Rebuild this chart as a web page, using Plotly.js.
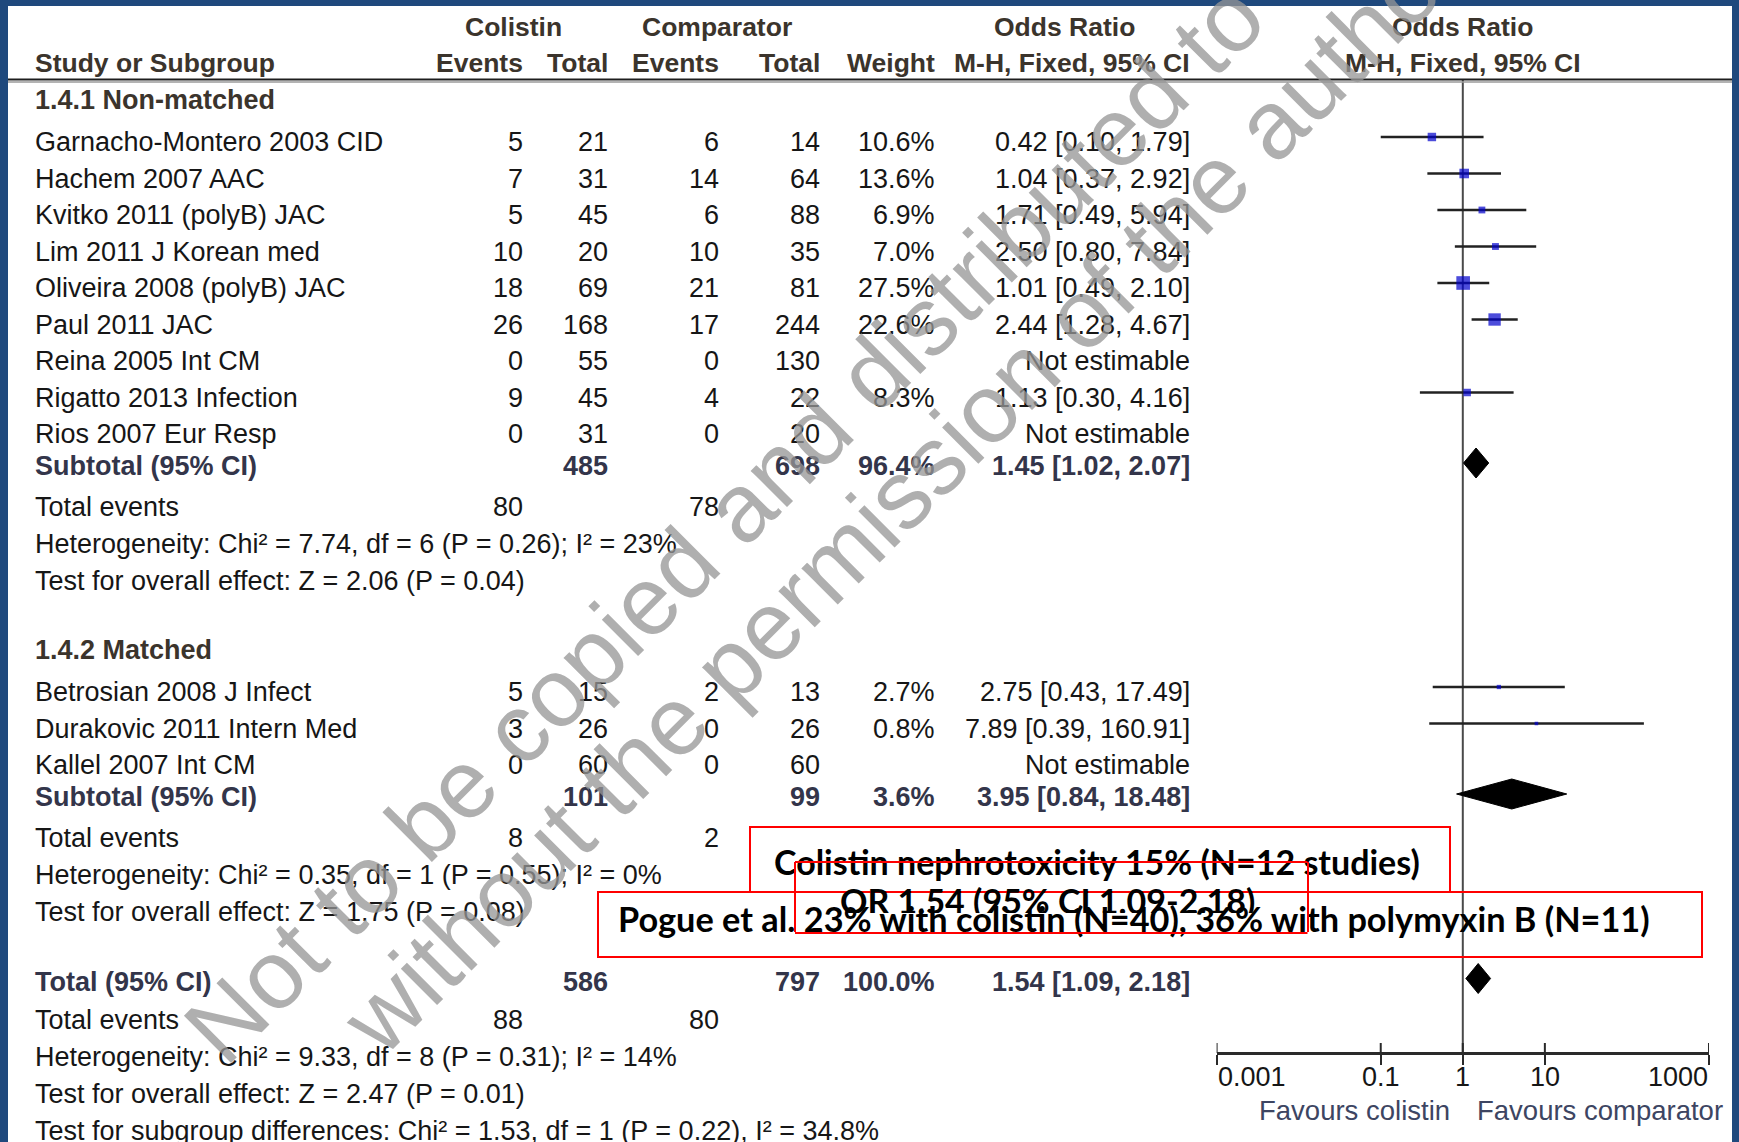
<!DOCTYPE html>
<html><head><meta charset="utf-8">
<script src="https://cdn.plot.ly/plotly-3.0.1.min.js"></script>
<style>html,body{margin:0;padding:0;background:#fff;overflow:hidden}#chart{width:1739px;height:1142px}</style>
</head><body><div id="chart"></div>
<script>
// ===================== DATA =====================
const headerTop = ["Colistin", "Comparator", "Odds Ratio", "Odds Ratio"];
const headerBottom = ["Study or Subgroup", "Events", "Total", "Events", "Total", "Weight", "M-H, Fixed, 95% CI", "M-H, Fixed, 95% CI"];

const group1Name = "1.4.1 Non-matched";
const group1Studies = ["Garnacho-Montero 2003 CID", "Hachem 2007 AAC", "Kvitko 2011 (polyB) JAC", "Lim 2011 J Korean med", "Oliveira 2008 (polyB) JAC", "Paul 2011 JAC", "Reina 2005 Int CM", "Rigatto 2013 Infection", "Rios 2007 Eur Resp"];
const group1ColistinEvents = [5, 7, 5, 10, 18, 26, 0, 9, 0];
const group1ColistinTotal = [21, 31, 45, 20, 69, 168, 55, 45, 31];
const group1ComparatorEvents = [6, 14, 6, 10, 21, 17, 0, 4, 0];
const group1ComparatorTotal = [14, 64, 88, 35, 81, 244, 130, 22, 20];
const group1Weight = [10.6, 13.6, 6.9, 7.0, 27.5, 22.6, null, 8.3, null];
const group1OR = [0.42, 1.04, 1.71, 2.50, 1.01, 2.44, null, 1.13, null];
const group1Low = [0.10, 0.37, 0.49, 0.80, 0.49, 1.28, null, 0.30, null];
const group1High = [1.79, 2.92, 5.94, 7.84, 2.10, 4.67, null, 4.16, null];

const group2Name = "1.4.2 Matched";
const group2Studies = ["Betrosian 2008 J Infect", "Durakovic 2011 Intern Med", "Kallel 2007 Int CM"];
const group2ColistinEvents = [5, 3, 0];
const group2ColistinTotal = [15, 26, 60];
const group2ComparatorEvents = [2, 0, 0];
const group2ComparatorTotal = [13, 26, 60];
const group2Weight = [2.7, 0.8, null];
const group2OR = [2.75, 7.89, null];
const group2Low = [0.43, 0.39, null];
const group2High = [17.49, 160.91, null];

const subtotalColistinTotal = [485, 101];
const subtotalComparatorTotal = [698, 99];
const subtotalWeight = [96.4, 3.6];
const subtotalOR = [1.45, 3.95];
const subtotalLow = [1.02, 0.84];
const subtotalHigh = [2.07, 18.48];
const subtotalColistinEvents = [80, 8];
const subtotalComparatorEvents = [78, 2];
const subtotalHeterogeneity = ["Heterogeneity: Chi\u00b2 = 7.74, df = 6 (P = 0.26); I\u00b2 = 23%", "Heterogeneity: Chi\u00b2 = 0.35, df = 1 (P = 0.55); I\u00b2 = 0%"];
const subtotalEffect = ["Test for overall effect: Z = 2.06 (P = 0.04)", "Test for overall effect: Z = 1.75 (P = 0.08)"];

const overallLabel = "Total (95% CI)";
const overallTotals = [586, 797];
const overallWeight = 100.0;
const overallOR = [1.54];
const overallLow = [1.09];
const overallHigh = [2.18];
const overallEvents = [88, 80];
const overallNotes = ["Heterogeneity: Chi\u00b2 = 9.33, df = 8 (P = 0.31); I\u00b2 = 14%", "Test for overall effect: Z = 2.47 (P = 0.01)", "Test for subgroup differences: Chi\u00b2 = 1.53, df = 1 (P = 0.22), I\u00b2 = 34.8%"];

const axisTicks = [0.001, 0.1, 1, 10, 1000];
const axisTickLabels = ["0.001", "0.1", "1", "10", "1000"];
const favoursLabels = ["Favours colistin", "Favours comparator"];
const calloutTexts = ["Colistin nephrotoxicity 15% (N=12 studies)", "OR 1.54 (95% CI 1.09-2.18)", "Pogue et al. 23% with colistin (N=40), 36% with polymyxin B (N=11)"];
const watermarkLines = ["Not to be copied and distributed to", "without the permission of the author"];

// ===================== LAYOUT GEOMETRY =====================
const W = 1739, H = 1142;
const FONT = "Liberation Sans, Arial, sans-serif";
const CFONT = "Lato, 'Open Sans', sans-serif";
const FS = 27, HFS = 26.5;
const C_TEXT = "#161616", C_HEAD = "#3b342c", C_SUB = "#33354a", C_FAV = "#3d4562";
const COL = {label: 34, ev1: 524, tot1: 609, ev2: 720, tot2: 821, weight: 936, ci: 1191};
const HEADX = {colistin: 513, comparator: 717, or1: 1064};
const ROW = {first: 99.5, hdrToStudy: 42.5, study: 36.5, toSub: 32, subToEv: 40.5, note: 37, nextGroup: 69, toTotal: 70, totToEv: 38};
const AXIS_Y = 1053, TICKLAB_Y = 1077, FAV_Y = 1110, HEAD_LINE_Y = 80;
const MARK_OFF = 5, DIA_OFF = 3, DIA_H = 15;

const px = x => x / W;
const ann = [], shapes = [], traces = [];
const f2 = v => v.toFixed(2);
const ciStr = (o, l, h) => o == null ? "Not estimable" : `${f2(o)} [${f2(l)}, ${f2(h)}]`;
const wStr = w => w == null ? "" : w.toFixed(1) + "%";

function T(text, x, y, anchor, o) {
  o = o || {};
  if (text === "" || text == null) return;
  ann.push({xref: 'paper', yref: 'y', x: px(x), y: y, text: o.bold ? '<b>' + text + '</b>' : String(text),
    showarrow: false, xanchor: anchor, yanchor: 'middle', borderpad: 0,
    font: {family: o.family || FONT, size: o.size || FS, color: o.color || C_TEXT}});
}

// header
T(headerTop[0], HEADX.colistin, 27, 'center', {bold: true, size: HFS, color: C_HEAD});
T(headerTop[1], HEADX.comparator, 27, 'center', {bold: true, size: HFS, color: C_HEAD});
T(headerTop[2], HEADX.or1, 27, 'center', {bold: true, size: HFS, color: C_HEAD});
ann.push({xref: 'x', yref: 'y', x: 0, y: 27, text: '<b>' + headerTop[3] + '</b>', showarrow: false, xanchor: 'center', yanchor: 'middle', borderpad: 0, font: {family: FONT, size: HFS, color: C_HEAD}});
const hx = [[COL.label, 'left'], [COL.ev1, 'right'], [COL.tot1, 'right'], [COL.ev2, 'right'], [COL.tot2, 'right'], [COL.weight, 'right'], [COL.ci, 'right']];
hx.forEach((h, i) => T(headerBottom[i], h[0], 62.5, h[1], {bold: true, size: HFS, color: C_HEAD}));
ann.push({xref: 'x', yref: 'y', x: 0, y: 62.5, text: '<b>' + headerBottom[7] + '</b>', showarrow: false, xanchor: 'center', yanchor: 'middle', borderpad: 0, font: {family: FONT, size: HFS, color: C_HEAD}});

const groups = [
  {name: group1Name, studies: group1Studies, e1: group1ColistinEvents, t1: group1ColistinTotal, e2: group1ComparatorEvents, t2: group1ComparatorTotal, w: group1Weight, or: group1OR, lo: group1Low, hi: group1High},
  {name: group2Name, studies: group2Studies, e1: group2ColistinEvents, t1: group2ColistinTotal, e2: group2ComparatorEvents, t2: group2ComparatorTotal, w: group2Weight, or: group2OR, lo: group2Low, hi: group2High}
];

const ciX = [], ciY = [], sqX = [], sqY = [], sqS = [], diamonds = [];
let y = ROW.first;
groups.forEach((g, gi) => {
  if (gi > 0) y += ROW.nextGroup;
  T(g.name, COL.label, y, 'left', {bold: true, color: C_HEAD});
  y += ROW.hdrToStudy;
  g.studies.forEach((s, i) => {
    if (i > 0) y += ROW.study;
    T(s, COL.label, y, 'left');
    T(g.e1[i], COL.ev1, y, 'right');
    T(g.t1[i], COL.tot1, y, 'right');
    T(g.e2[i], COL.ev2, y, 'right');
    T(g.t2[i], COL.tot2, y, 'right');
    T(wStr(g.w[i]), COL.weight, y, 'right');
    T(ciStr(g.or[i], g.lo[i], g.hi[i]), COL.ci, y, 'right');
    if (g.or[i] != null) {
      ciX.push(g.lo[i], g.hi[i], null); ciY.push(y - MARK_OFF, y - MARK_OFF, null);
      sqX.push(g.or[i]); sqY.push(y - MARK_OFF); sqS.push(Math.max(3.6, 2.6 * Math.sqrt(g.w[i])));
    }
  });
  y += ROW.toSub;
  T("Subtotal (95% CI)", COL.label, y, 'left', {bold: true, color: C_SUB});
  T(subtotalColistinTotal[gi], COL.tot1, y, 'right', {bold: true, color: C_SUB});
  T(subtotalComparatorTotal[gi], COL.tot2, y, 'right', {bold: true, color: C_SUB});
  T(wStr(subtotalWeight[gi]), COL.weight, y, 'right', {bold: true, color: C_SUB});
  T(ciStr(subtotalOR[gi], subtotalLow[gi], subtotalHigh[gi]), COL.ci, y, 'right', {bold: true, color: C_SUB});
  diamonds.push({o: subtotalOR[gi], l: subtotalLow[gi], h: subtotalHigh[gi], y: y - DIA_OFF});
  y += ROW.subToEv;
  T("Total events", COL.label, y, 'left');
  T(subtotalColistinEvents[gi], COL.ev1, y, 'right');
  T(subtotalComparatorEvents[gi], COL.ev2, y, 'right');
  y += ROW.note;
  T(subtotalHeterogeneity[gi], COL.label, y, 'left');
  y += ROW.note;
  T(subtotalEffect[gi], COL.label, y, 'left');
});
y += ROW.toTotal;
T(overallLabel, COL.label, y, 'left', {bold: true, color: C_SUB});
T(overallTotals[0], COL.tot1, y, 'right', {bold: true, color: C_SUB});
T(overallTotals[1], COL.tot2, y, 'right', {bold: true, color: C_SUB});
T(wStr(overallWeight), COL.weight, y, 'right', {bold: true, color: C_SUB});
T(ciStr(overallOR[0], overallLow[0], overallHigh[0]), COL.ci, y, 'right', {bold: true, color: C_SUB});
diamonds.push({o: overallOR[0], l: overallLow[0], h: overallHigh[0], y: y - DIA_OFF});
y += ROW.totToEv;
T("Total events", COL.label, y, 'left');
T(overallEvents[0], COL.ev1, y, 'right');
T(overallEvents[1], COL.ev2, y, 'right');
overallNotes.forEach(n => { y += ROW.note; T(n, COL.label, y, 'left'); });

// axis tick labels + favours
axisTicks.forEach((t, i) => {
  ann.push({xref: 'x', yref: 'y', x: Math.log10(t), y: TICKLAB_Y, text: axisTickLabels[i], showarrow: false,
    xanchor: i === 0 ? 'left' : (i === axisTicks.length - 1 ? 'right' : 'center'), yanchor: 'middle', borderpad: 0,
    font: {family: FONT, size: FS, color: C_TEXT}});
});
ann.push({xref: 'x', yref: 'y', x: 0, y: FAV_Y, xshift: -12, text: favoursLabels[0], showarrow: false, xanchor: 'right', yanchor: 'middle', borderpad: 0, font: {family: FONT, size: 27.5, color: C_FAV}});
ann.push({xref: 'x', yref: 'y', x: 0, y: FAV_Y, xshift: 13, text: favoursLabels[1], showarrow: false, xanchor: 'left', yanchor: 'middle', borderpad: 0, font: {family: FONT, size: 27.5, color: C_FAV}});

// watermark
const WM = [{x: 724, y: 522}, {x: 902, y: 492}];
watermarkLines.forEach((t, i) => {
  ann.push({xref: 'paper', yref: 'y', x: px(WM[i].x), y: WM[i].y, text: t, textangle: -45, showarrow: false,
    xanchor: 'center', yanchor: 'middle', borderpad: 0, font: {family: FONT, size: 97, color: 'rgba(150,150,150,0.76)'}});
});

// callouts
const CFS = 34;
ann.push({xref: 'paper', yref: 'y', x: px(1097), y: 861, text: '<b>' + calloutTexts[0] + '</b>', showarrow: false, xanchor: 'center', yanchor: 'middle', borderpad: 0, font: {family: CFONT, size: CFS, color: '#000'}});
ann.push({xref: 'paper', yref: 'y', x: px(1047.5), y: 879, height: 33, valign: 'top', text: '<b>' + calloutTexts[1] + '</b>', showarrow: false, xanchor: 'center', yanchor: 'top', borderpad: 0, font: {family: CFONT, size: CFS, color: '#000'}});
ann.push({xref: 'paper', yref: 'y', x: px(1134), y: 918, text: '<b>' + calloutTexts[2] + '</b>', showarrow: false, xanchor: 'center', yanchor: 'middle', borderpad: 0, font: {family: CFONT, size: 34.3, color: '#000'}});

// red box 2 edges drawn above text (as line-only arrows)
const B2 = {x0: 795, x1: 1308, y0: 862, y1: 933};
[[B2.x0, B2.y0, B2.x1 - B2.x0, 0], [B2.x0, B2.y1, B2.x1 - B2.x0, 0], [B2.x0, B2.y0, 0, B2.y1 - B2.y0], [B2.x1, B2.y0, 0, B2.y1 - B2.y0]].forEach(e => {
  ann.push({xref: 'paper', yref: 'y', x: px(e[0]), y: e[1], ax: e[2], ay: e[3], axref: 'pixel', ayref: 'pixel', text: ' ', font: {size: 1},
    showarrow: true, arrowhead: 0, arrowwidth: 2, arrowcolor: '#ff0000', standoff: 0, startstandoff: 0, borderpad: 0});
});

// shapes: frame, header rule, red boxes 1 & 3
const FRAME = '#1f497d';
shapes.push({type: 'rect', xref: 'paper', yref: 'y', x0: 0, x1: px(8), y0: 0, y1: H, fillcolor: FRAME, line: {width: 0}, layer: 'above'});
shapes.push({type: 'rect', xref: 'paper', yref: 'y', x0: 0, x1: 1, y0: 0, y1: 6, fillcolor: FRAME, line: {width: 0}, layer: 'above'});
shapes.push({type: 'rect', xref: 'paper', yref: 'y', x0: px(1732), x1: 1, y0: 0, y1: H, fillcolor: FRAME, line: {width: 0}, layer: 'above'});
shapes.push({type: 'line', xref: 'paper', yref: 'y', x0: px(8), x1: px(1732), y0: HEAD_LINE_Y - 0.5, y1: HEAD_LINE_Y - 0.5, line: {color: '#1e1e1e', width: 2}});
shapes.push({type: 'line', xref: 'paper', yref: 'y', x0: px(8), x1: px(1732), y0: HEAD_LINE_Y + 2, y1: HEAD_LINE_Y + 2, line: {color: '#9a9a9a', width: 1.5}});
[{x0: 750, x1: 1450, y0: 827, y1: 892}, {x0: 598, x1: 1702, y0: 892, y1: 957}].forEach(b => {
  shapes.push({type: 'rect', xref: 'paper', yref: 'y', x0: px(b.x0), x1: px(b.x1), y0: b.y0, y1: b.y1, line: {color: '#ff0000', width: 2}, fillcolor: 'rgba(0,0,0,0)', layer: 'above'});
});

// traces
traces.push({x: [1, 1], y: [HEAD_LINE_Y, AXIS_Y], mode: 'lines', line: {color: '#4a4a4a', width: 2}, hoverinfo: 'skip'});
const tkx = [], tky = [];
axisTicks.forEach(t => { tkx.push(t, t, null); tky.push(AXIS_Y - 10, AXIS_Y, null); });
traces.push({x: tkx, y: tky, mode: 'lines', line: {color: '#2a2a2a', width: 2}, hoverinfo: 'skip', cliponaxis: false});
traces.push({x: ciX, y: ciY, mode: 'lines', line: {color: '#222', width: 2.3}, hoverinfo: 'skip'});
traces.push({x: sqX, y: sqY, mode: 'markers', marker: {symbol: 'square', size: sqS, color: '#0000cc', line: {width: 0}}, hoverinfo: 'skip'});
diamonds.forEach(d => {
  traces.push({x: [d.l, d.o, d.h, d.o, d.l], y: [d.y, d.y - DIA_H, d.y, d.y + DIA_H, d.y], mode: 'lines', fill: 'toself', fillcolor: '#000', line: {color: '#000', width: 1}, hoverinfo: 'skip'});
});

const layout = {
  width: W, height: H, margin: {l: 0, r: 0, t: 0, b: 0}, paper_bgcolor: '#fff', plot_bgcolor: 'rgba(0,0,0,0)',
  showlegend: false, hovermode: false,
  xaxis: {type: 'log', range: [-3, 3], domain: [1216.6 / W, 1709 / W], anchor: 'free', position: 1 - AXIS_Y / H,
    showline: true, linecolor: '#2a2a2a', linewidth: 2.5, ticks: 'outside', ticklen: 10, tickwidth: 2, tickcolor: '#2a2a2a',
    tickvals: axisTicks, showticklabels: false, showgrid: false, zeroline: false, fixedrange: true},
  yaxis: {range: [H, 0], domain: [0, 1], visible: false, showgrid: false, zeroline: false, fixedrange: true},
  annotations: ann, shapes: shapes
};
Plotly.newPlot('chart', traces, layout, {staticPlot: true, displayModeBar: false});
</script></body></html>
